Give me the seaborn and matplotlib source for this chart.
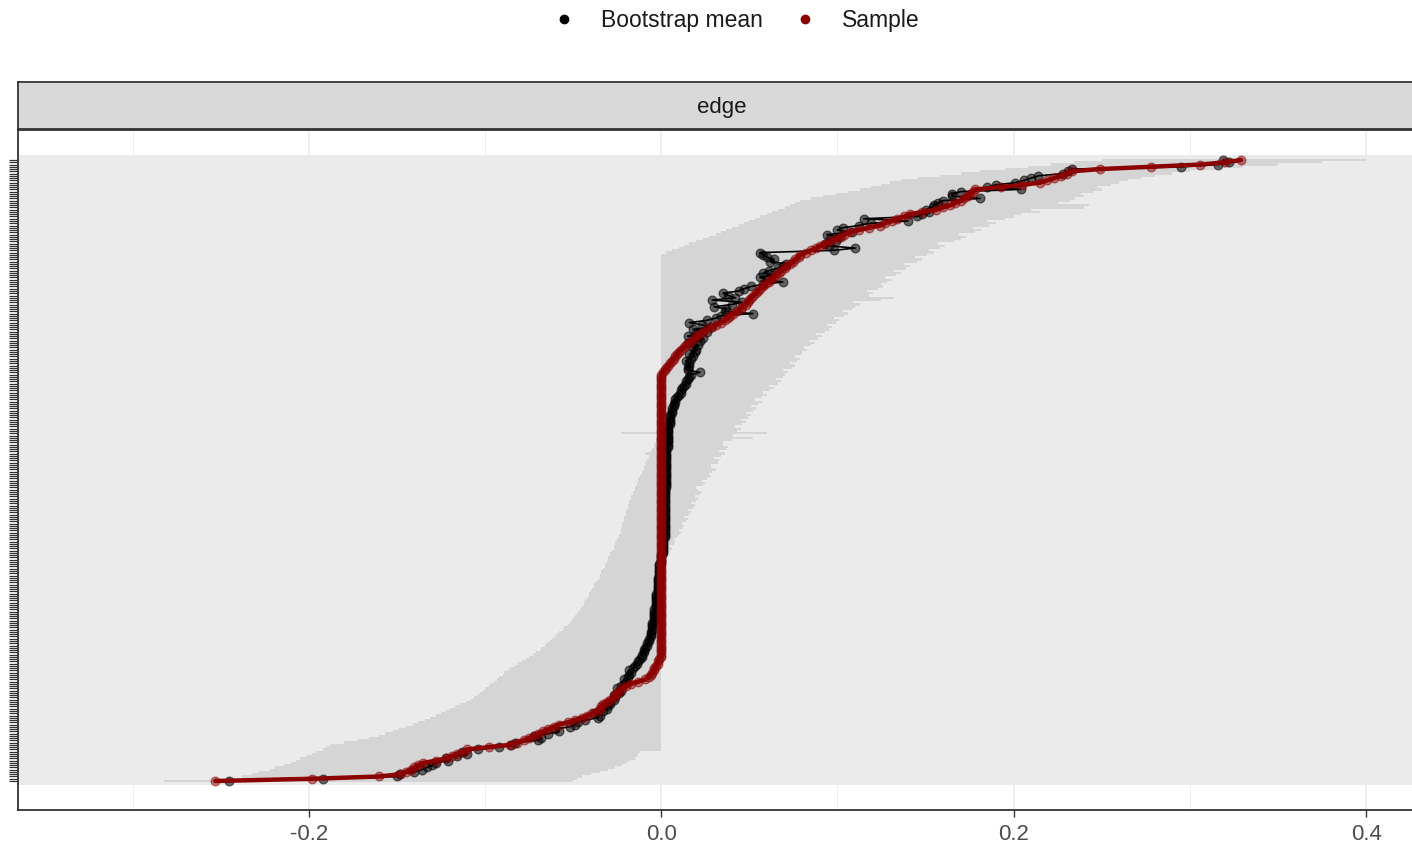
import numpy as np
import pandas as pd
import matplotlib
matplotlib.use("Agg")
import matplotlib.pyplot as plt
from matplotlib.lines import Line2D
from matplotlib.ticker import MultipleLocator
import seaborn as sns

# ---------------- data (edges ordered by sample value, bottom -> top) ----------------
sample_neg = [-0.253, -0.198, -0.160, -0.148, -0.145, -0.142, -0.140, -0.138, -0.135, -0.128,
              -0.122, -0.119, -0.116, -0.112, -0.110, -0.098, -0.086, -0.082, -0.078, -0.075,
              -0.072, -0.070, -0.067, -0.064, -0.061, -0.058, -0.053, -0.049, -0.045, -0.042,
              -0.039, -0.036, -0.035, -0.034, -0.033, -0.031, -0.029, -0.027, -0.026, -0.025,
              -0.024, -0.022, -0.020, -0.017, -0.013, -0.009, -0.007, -0.006, -0.005, -0.004,
              -0.004, -0.003, -0.002, -0.002, -0.001]
sample_zero = [0.0] * 126
sample_pos = [0.001, 0.002, 0.003, 0.004, 0.005, 0.006, 0.007, 0.008, 0.009, 0.010,
              0.011, 0.013, 0.014, 0.016, 0.017, 0.019, 0.020, 0.022, 0.024, 0.026,
              0.029, 0.031, 0.034, 0.036, 0.038, 0.039, 0.041, 0.043, 0.045, 0.046,
              0.048, 0.049, 0.050, 0.051, 0.052, 0.054, 0.055, 0.056, 0.058, 0.059,
              0.061, 0.062, 0.064, 0.065, 0.067, 0.068, 0.070, 0.071, 0.073, 0.075,
              0.076, 0.078, 0.079, 0.082, 0.085, 0.088, 0.090, 0.093, 0.096, 0.099,
              0.102, 0.104, 0.107, 0.112, 0.118, 0.124, 0.127, 0.131, 0.134, 0.138,
              0.141, 0.148, 0.156, 0.160, 0.164, 0.167, 0.170, 0.172, 0.174, 0.175,
              0.177, 0.178, 0.193, 0.205, 0.215, 0.219, 0.223, 0.227, 0.230, 0.233,
              0.249, 0.278, 0.306, 0.320, 0.329]
sample = sample_neg + sample_zero + sample_pos

boot_mean = [
    -0.245, -0.192, -0.150, -0.148, -0.140, -0.136, -0.133, -0.130, -0.128, -0.121,
    -0.122, -0.116, -0.110, -0.113, -0.104, -0.092, -0.085, -0.083, -0.070, -0.068,
    -0.072, -0.064, -0.058, -0.060, -0.052, -0.049, -0.047, -0.043, -0.036, -0.035,
    -0.038, -0.033, -0.031, -0.031, -0.029, -0.029, -0.027, -0.026, -0.027, -0.024,
    -0.023, -0.025, -0.023, -0.021, -0.020, -0.021, -0.019, -0.018, -0.017, -0.018,
    -0.016, -0.015, -0.014, -0.013, -0.012,
    -0.011, -0.011, -0.010, -0.010, -0.009, -0.008, -0.008, -0.007, -0.007, -0.006,
    -0.006, -0.006, -0.005, -0.005, -0.005, -0.005, -0.004, -0.004, -0.004, -0.004,
    -0.004, -0.004, -0.003, -0.003, -0.003, -0.003, -0.003, -0.003, -0.003, -0.002,
    -0.002, -0.002, -0.002, -0.002, -0.002, -0.002, -0.001, -0.001, -0.001, -0.001,
    -0.001, -0.001, 0.000, 0.000, 0.000, 0.000, 0.001, 0.001, 0.001, 0.001,
    0.001, 0.001, 0.001, 0.002, 0.002, 0.002, 0.002, 0.002, 0.002, 0.002,
    0.002, 0.002, 0.002, 0.002, 0.002, 0.002, 0.002, 0.002, 0.002, 0.002,
    0.002, 0.002, 0.002, 0.002, 0.002, 0.003, 0.003, 0.003, 0.003, 0.003,
    0.003, 0.003, 0.003, 0.003, 0.003, 0.003, 0.003, 0.003, 0.003, 0.003,
    0.003, 0.003, 0.003, 0.004, 0.004, 0.004, 0.004, 0.004, 0.004, 0.004,
    0.004, 0.004, 0.004, 0.005, 0.005, 0.005, 0.005, 0.005, 0.006, 0.006,
    0.006, 0.007, 0.007, 0.008, 0.008, 0.009, 0.010, 0.011, 0.011, 0.012,
    0.013, 0.014, 0.014, 0.015, 0.016, 0.017,
    0.022, 0.015, 0.015, 0.016, 0.016, 0.014, 0.017, 0.018, 0.016, 0.019,
    0.020, 0.018, 0.021, 0.015, 0.022, 0.024, 0.015, 0.020, 0.026, 0.018,
    0.028, 0.023, 0.016, 0.026, 0.031, 0.034, 0.052, 0.036, 0.037, 0.030,
    0.040, 0.046, 0.029, 0.042, 0.038, 0.035, 0.044, 0.047, 0.051, 0.058,
    0.069, 0.060, 0.056, 0.063, 0.058, 0.061, 0.066, 0.069, 0.071, 0.062,
    0.064, 0.060, 0.058, 0.056, 0.098, 0.110, 0.095, 0.093, 0.099, 0.096,
    0.101, 0.094, 0.108, 0.100, 0.103, 0.112, 0.119, 0.140, 0.115, 0.145,
    0.148, 0.152, 0.150, 0.154, 0.155, 0.157, 0.160, 0.181, 0.165, 0.165,
    0.170, 0.204, 0.185, 0.190, 0.201, 0.206, 0.210, 0.214, 0.228, 0.231,
    0.233, 0.295, 0.316, 0.322, 0.319]

ci_lower = [
    -0.282, -0.245, -0.238, -0.232, -0.228, -0.222, -0.219, -0.214, -0.210, -0.207,
    -0.205, -0.201, -0.198, -0.196, -0.192, -0.190, -0.188, -0.180, -0.172, -0.166,
    -0.160, -0.157, -0.152, -0.149, -0.145, -0.141, -0.138, -0.134, -0.131, -0.128,
    -0.125, -0.122, -0.120, -0.117, -0.114, -0.111, -0.108, -0.106, -0.104, -0.103,
    -0.101, -0.100, -0.098, -0.097, -0.095, -0.093, -0.092, -0.090, -0.089, -0.087,
    -0.086, -0.083, -0.081, -0.079, -0.077, -0.075, -0.073, -0.071, -0.069, -0.068,
    -0.066, -0.065, -0.063, -0.062, -0.060, -0.059, -0.058, -0.056, -0.055, -0.053,
    -0.052, -0.051, -0.050, -0.049, -0.048, -0.047, -0.046, -0.045, -0.044, -0.044,
    -0.043, -0.042, -0.041, -0.041, -0.040, -0.039, -0.038, -0.038, -0.037, -0.036,
    -0.035, -0.035, -0.034, -0.034, -0.033, -0.032, -0.032, -0.031, -0.030, -0.030,
    -0.029, -0.029, -0.028, -0.027, -0.027, -0.026, -0.026, -0.025, -0.024, -0.024,
    -0.023, -0.023, -0.022, -0.022, -0.022, -0.021, -0.021, -0.021, -0.020, -0.020,
    -0.020, -0.019, -0.019, -0.018, -0.018, -0.017, -0.017, -0.016, -0.016, -0.015,
    -0.015, -0.014, -0.014, -0.013, -0.013, -0.012, -0.011, -0.011, -0.010, -0.010,
    -0.009, -0.009, -0.008, -0.007, -0.007, -0.009, -0.006, -0.005, -0.004, -0.004,
    -0.003, -0.003, -0.002, -0.002, -0.023, -0.001, -0.001, 0.000, 0.000, 0.000] \
    + [0.0] * 74 + [
    0.003, 0.006, 0.010, 0.013, 0.016, 0.020, 0.024, 0.027, 0.031, 0.034,
    0.037, 0.040, 0.044, 0.047, 0.050, 0.053, 0.056, 0.060, 0.063, 0.066,
    0.070, 0.073, 0.076, 0.079, 0.085, 0.092, 0.099, 0.106, 0.113, 0.119,
    0.125, 0.130, 0.136, 0.146, 0.158, 0.170, 0.181, 0.195, 0.208, 0.221,
    0.235, 0.250]

ci_upper = [
    -0.050, -0.048, -0.045, -0.040, -0.035, -0.030, -0.026, -0.022, -0.020, -0.018,
    -0.015, -0.014, -0.013, -0.012] + [0.0] * 84 + [
    0.002, 0.001, 0.004, 0.003, 0.005, 0.006, 0.004, 0.007, 0.008, 0.007, 0.009, 0.010,
    0.011, 0.010, 0.012, 0.013, 0.012, 0.014, 0.015, 0.013, 0.016, 0.017,
    0.015, 0.018, 0.019, 0.017, 0.020, 0.021, 0.019, 0.022, 0.023, 0.021,
    0.020, 0.024, 0.025, 0.023, 0.026, 0.028, 0.027, 0.029, 0.031, 0.028,
    0.028, 0.032, 0.033, 0.030, 0.034, 0.036, 0.033, 0.037, 0.038, 0.035,
    0.035, 0.040, 0.052, 0.041, 0.060, 0.043, 0.045, 0.042, 0.046, 0.048,
    0.045, 0.049, 0.051, 0.048, 0.052, 0.054, 0.051, 0.055, 0.057, 0.053,
    0.057, 0.060, 0.058, 0.062, 0.064, 0.061, 0.066, 0.068, 0.065, 0.069,
    0.070, 0.072, 0.069, 0.074, 0.076, 0.073, 0.077, 0.079, 0.076, 0.080,
    0.080, 0.083, 0.081, 0.085, 0.087, 0.084, 0.089, 0.091, 0.088, 0.093,
    0.095, 0.097, 0.094, 0.099, 0.101, 0.098, 0.104, 0.106, 0.103, 0.108,
    0.110, 0.113, 0.109, 0.125, 0.132, 0.118, 0.120, 0.117, 0.123, 0.126,
    0.125, 0.128, 0.131, 0.127, 0.133, 0.136, 0.132, 0.139, 0.141, 0.138,
    0.145, 0.148, 0.144, 0.151, 0.155, 0.152, 0.158, 0.161, 0.157, 0.166,
    0.170, 0.173, 0.169, 0.178, 0.182, 0.177, 0.186, 0.190, 0.185, 0.195,
    0.200, 0.204, 0.215, 0.210, 0.240, 0.243, 0.225, 0.232, 0.235, 0.240,
    0.238, 0.245, 0.250, 0.248, 0.255, 0.260, 0.265, 0.272, 0.280, 0.290,
    0.300, 0.315, 0.330, 0.350, 0.375, 0.400]

x_ticks = [-0.2, 0.0, 0.2, 0.4]
x_tick_labels = ["-0.2", "0.0", "0.2", "0.4"]
facet_label = "edge"
legend_labels = ["Bootstrap mean", "Sample"]

n = len(sample)
assert len(boot_mean) == n and len(ci_lower) == n and len(ci_upper) == n, \
    (len(sample), len(boot_mean), len(ci_lower), len(ci_upper))

df = pd.DataFrame({
    "rank": np.arange(n),
    "sample": sample,
    "mean": boot_mean,
    "lower": ci_lower,
    "upper": ci_upper,
})

# ---------------- style ----------------
sns.set_theme(style="white")
plt.rcParams["font.family"] = ["Liberation Sans", "DejaVu Sans"]

W_PX, H_PX = 1412, 851
fig = plt.figure(figsize=(W_PX / 100, H_PX / 100), dpi=100)
fig.patch.set_facecolor("white")

L = 18 / W_PX
Wd = (1426 - 18) / W_PX
B = (H_PX - 810) / H_PX
Ht = (810 - 130) / H_PX
ax = fig.add_axes([L, B, Wd, Ht])
ax.set_facecolor("white")

DARKRED = "#8B0000"

# shaded area behind the edges
ax.axhspan(-1.8, n + 1.2, color="#EBEBEB", lw=0, zorder=1)
# per-edge bootstrap CI
ax.barh(df["rank"], df["upper"] - df["lower"], left=df["lower"], height=1.0,
        color="#D5D5D5", lw=0, antialiased=False, zorder=2)

sns.lineplot(data=df, x="mean", y="rank", sort=False, estimator=None,
             color="black", lw=1.2, ax=ax, zorder=3)
sns.scatterplot(data=df, x="mean", y="rank", color="black", alpha=0.55, s=40,
                edgecolor="black", linewidth=0.9, ax=ax, zorder=4)
sns.lineplot(data=df, x="sample", y="rank", sort=False, estimator=None,
             color=DARKRED, lw=3.2, ax=ax, zorder=5)
sns.scatterplot(data=df, x="sample", y="rank", color=DARKRED, alpha=0.5, s=40,
                edgecolor=DARKRED, linewidth=0.9, ax=ax, zorder=6)
if ax.get_legend() is not None:
    ax.get_legend().remove()

ax.set_xlim(-0.365, 0.434)
ax.set_ylim(-12.84, 288.3)
ax.set_xlabel("")
ax.set_ylabel("")

ax.set_xticks(x_ticks)
ax.set_xticklabels(x_tick_labels)
ax.xaxis.set_minor_locator(MultipleLocator(0.1))
ax.set_axisbelow(True)
ax.grid(axis="x", which="major", color="#EBEBEB", lw=1.1)
ax.grid(axis="x", which="minor", color="#EBEBEB", lw=0.55)
ax.grid(axis="y", visible=False)

ax.set_yticks(df["rank"])
ax.set_yticklabels([""] * n)
ax.tick_params(axis="y", which="major", left=True, length=6.5, width=0.9,
               color="#333333")
ax.tick_params(axis="x", which="major", bottom=True, length=5, width=1.0,
               color="#333333", labelsize=16, labelcolor="#4D4D4D", pad=5)
ax.tick_params(axis="x", which="minor", bottom=False, length=0)

for side in ["left", "bottom", "right", "top"]:
    ax.spines[side].set_color("#333333")
    ax.spines[side].set_linewidth(1.3)

# facet strip
sax = fig.add_axes([L, (H_PX - 129) / H_PX, Wd, 47 / H_PX])
sax.set_facecolor("#D9D9D9")
sax.set_xticks([])
sax.set_yticks([])
for side in sax.spines:
    sax.spines[side].set_color("#333333")
    sax.spines[side].set_linewidth(1.3)
sax.text(0.5, 0.45, facet_label, ha="center", va="center", fontsize=16,
         color="#1A1A1A", transform=sax.transAxes)

# legend
handles = [
    Line2D([], [], marker="o", ls="", color="black", markersize=6, label=legend_labels[0]),
    Line2D([], [], marker="o", ls="", color=DARKRED, markersize=6, label=legend_labels[1]),
]
fig.legend(handles=handles, loc="center", bbox_to_anchor=(735 / W_PX, 1 - 21 / H_PX),
           ncol=2, frameon=False, fontsize=16.5, handletextpad=1.0, columnspacing=1.25,
           handlelength=1.2, labelcolor="#1A1A1A")

fig.savefig("out.png", dpi=100, facecolor="white")
